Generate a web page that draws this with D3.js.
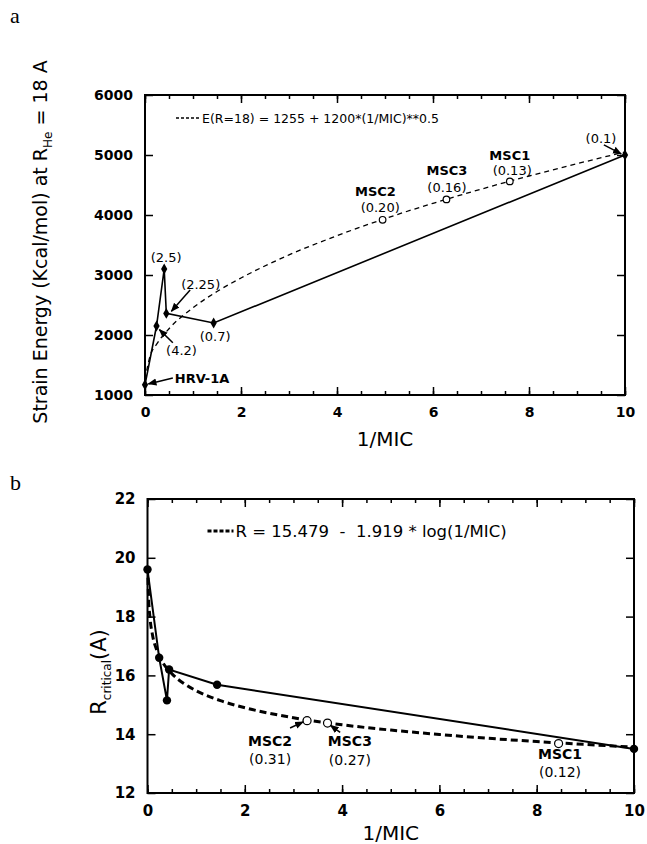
<!DOCTYPE html>
<html>
<head>
<meta charset="utf-8">
<script src="https://cdn.jsdelivr.net/npm/d3@7"></script>
<style>
  body { margin: 0; background: #fff; }
  svg { display: block; font-family: "DejaVu Sans", sans-serif; }
</style>
</head>
<body>
<svg id="chart" width="647" height="844"></svg>
<script>
// ---- panel a : strain energy at R = 18 A vs 1/MIC ----
var strainX = [0, 0.24, 0.4, 0.444, 1.43, 10];
var strainE = [1170, 2150, 3100, 2360, 2200, 5000];
var mscXa = [4.95, 6.28, 7.6];
var mscEa = [3920, 4260, 4560];
// dashed fit
var fitXa = [0, 0.1, 0.25, 0.5, 1, 1.5, 2, 3, 4, 5, 6, 7, 8, 9, 10];
var fitEa = [1255, 1635, 1855, 2105, 2455, 2725, 2950, 3335, 3655, 3940, 4195, 4430, 4650, 4855, 5050];
var yTicksA = [1000, 2000, 3000, 4000, 5000, 6000];

// ---- panel b : R critical vs 1/MIC ----
var rcritX = [0, 0.24, 0.4, 0.444, 1.43, 10];
var rcritR = [19.6, 16.6, 15.15, 16.2, 15.68, 13.5];
var mscXb = [3.28, 3.7, 8.45];
var mscRb = [14.46, 14.38, 13.68];
var fitXb = [0.01, 0.02, 0.05, 0.1, 0.2, 0.3, 0.5, 0.75, 1, 1.5, 2, 3, 4, 5, 6, 7, 8, 9, 10];
var fitRb = [19.32, 18.74, 17.98, 17.40, 16.82, 16.48, 16.06, 15.72, 15.48, 15.14, 14.90, 14.56, 14.32, 14.14, 13.99, 13.86, 13.75, 13.65, 13.56];
var yTicksB = [12, 14, 16, 18, 20, 22];

var xTicks = [0, 2, 4, 6, 8, 10];
var xMinor = d3.range(0, 10.01, 0.5);

var svg = d3.select('#chart');
svg.append('rect').attr('width', 647).attr('height', 844).attr('fill', '#fff');

var defs = svg.append('defs');
defs.append('marker')
    .attr('id', 'arrow')
    .attr('viewBox', '0 0 10 10')
    .attr('refX', 9).attr('refY', 5)
    .attr('markerWidth', 9).attr('markerHeight', 9)
    .attr('markerUnits', 'userSpaceOnUse')
    .attr('orient', 'auto')
    .append('path').attr('d', 'M0,1 L10,5 L0,9 Z').attr('fill', '#000');

function panel(opt) {
    var x = d3.scaleLinear().domain([0, 10]).range([opt.left, opt.right]);
    var y = d3.scaleLinear().domain(opt.yDomain).range([opt.bottom, opt.top]);
    var g = svg.append('g');

    function axis(gen, tr, vals, size, labels) {
        var a = g.append('g').attr('transform', tr)
            .call(gen.tickValues(vals).tickSize(size).tickPadding(opt.pad)
                .tickFormat(labels ? d3.format('d') : ''));
        a.select('.domain').remove();
        a.selectAll('line').attr('stroke', '#000').attr('stroke-width', 1.5);
        a.selectAll('text').attr('font-family', '"DejaVu Sans", sans-serif')
            .attr('font-weight', 'bold').attr('font-size', opt.tickFont).attr('fill', '#000');
        return a;
    }
    var bt = 'translate(0,' + opt.bottom + ')', tp = 'translate(0,' + opt.top + ')';
    var lf = 'translate(' + opt.left + ',0)', rt = 'translate(' + opt.right + ',0)';
    axis(d3.axisBottom(x), bt, xMinor, -4, false);
    axis(d3.axisBottom(x), bt, xTicks, -8, true);
    axis(d3.axisTop(x), tp, xMinor, -4, false);
    axis(d3.axisTop(x), tp, xTicks, -8, false);
    axis(d3.axisLeft(y), lf, opt.yTicks, -8, true);
    axis(d3.axisRight(y), rt, opt.yTicks, -8, false);

    g.append('rect')
        .attr('x', opt.left).attr('y', opt.top)
        .attr('width', opt.right - opt.left).attr('height', opt.bottom - opt.top)
        .attr('fill', 'none').attr('stroke', '#000').attr('stroke-width', 2);

    // dashed fit
    g.append('path')
        .datum(opt.fitX.map(function(d, i) { return [d, opt.fitY[i]]; }))
        .attr('fill', 'none').attr('stroke', '#000')
        .attr('stroke-width', opt.dashW).attr('stroke-dasharray', opt.dash)
        .attr('d', d3.line().x(function(d) { return x(d[0]); }).y(function(d) { return y(d[1]); })
            .curve(d3.curveMonotoneX));

    // solid data line
    var pts = opt.lineX.map(function(d, i) { return [d, opt.lineY[i]]; });
    g.append('path').datum(pts)
        .attr('fill', 'none').attr('stroke', '#000').attr('stroke-width', opt.solidW)
        .attr('d', d3.line().x(function(d) { return x(d[0]); }).y(function(d) { return y(d[1]); }));

    if (opt.diamond) {
        g.selectAll('.pt').data(pts).enter().append('path')
            .attr('transform', function(d) { return 'translate(' + x(d[0]) + ',' + y(d[1]) + ')'; })
            .attr('d', d3.symbol().type(d3.symbolDiamond).size(34))
            .attr('fill', '#000');
    } else {
        g.selectAll('.pt').data(pts).enter().append('circle')
            .attr('cx', function(d) { return x(d[0]); })
            .attr('cy', function(d) { return y(d[1]); })
            .attr('r', 4.2).attr('fill', '#000');
    }

    g.selectAll('.msc').data(opt.mscX).enter().append('circle')
        .attr('cx', function(d) { return x(d); })
        .attr('cy', function(d, i) { return y(opt.mscY[i]); })
        .attr('r', opt.openR).attr('fill', '#fff').attr('stroke', '#000').attr('stroke-width', 1.2);

    opt.notes.forEach(function(n) {
        if (n.from) {
            g.append('line')
                .attr('x1', x(n.from[0])).attr('y1', y(n.from[1]))
                .attr('x2', x(n.to[0])).attr('y2', y(n.to[1]))
                .attr('stroke', '#000').attr('stroke-width', 1.5)
                .attr('marker-end', 'url(#arrow)');
        }
        if (n.text) {
            g.append('text')
                .attr('x', x(n.at[0])).attr('y', y(n.at[1]))
                .attr('dy', '0.36em')
                .attr('text-anchor', n.anchor || 'middle')
                .attr('font-size', opt.noteFont)
                .attr('font-weight', n.bold ? 'bold' : 'normal')
                .text(n.text);
        }
    });

    // legend
    var lg = g.append('g').attr('transform', 'translate(' + (opt.left + opt.legend[0]) + ',' + (opt.top + opt.legend[1]) + ')');
    lg.append('line').attr('x1', 0).attr('x2', opt.legend[2]).attr('y1', 0).attr('y2', 0)
        .attr('stroke', '#000').attr('stroke-width', opt.dashW).attr('stroke-dasharray', opt.legendDash);
    lg.append('text').attr('x', opt.legend[2] + 2).attr('dy', '0.36em')
        .attr('font-size', opt.legendFont).style('white-space', 'pre')
        .text(opt.legendText);

    // axis title
    g.append('text')
        .attr('x', (opt.left + opt.right) / 2).attr('y', opt.xTitleY)
        .attr('text-anchor', 'middle').attr('font-size', 20)
        .text('1/MIC');
    return g;
}

var ga = panel({
    left: 145, right: 625, top: 95, bottom: 395,
    yDomain: [1000, 6000], yTicks: yTicksA, pad: 12, tickFont: 14,
    fitX: fitXa, fitY: fitEa, dash: '5,4', dashW: 1.3,
    lineX: strainX, lineY: strainE, solidW: 1.6, diamond: true,
    mscX: mscXa, mscY: mscEa, openR: 3.3,
    noteFont: 13,
    notes: [
        {text: 'HRV-1A', at: [0.62, 1283], anchor: 'start', bold: true, from: [0.58, 1283], to: [0.07, 1185]},
        {text: '(4.2)', at: [0.76, 1750], from: [0.58, 1870], to: [0.3, 2090]},
        {text: '(2.5)', at: [0.44, 3300]},
        {text: '(2.25)', at: [1.16, 2850], from: [0.94, 2750], to: [0.55, 2395]},
        {text: '(0.7)', at: [1.46, 1983]},
        {text: '(0.1)', at: [9.5, 5283], from: [9.56, 5170], to: [9.92, 5020]},
        {text: 'MSC2', at: [4.8, 4390], bold: true},
        {text: '(0.20)', at: [4.9, 4125]},
        {text: 'MSC3', at: [6.29, 4740], bold: true},
        {text: '(0.16)', at: [6.29, 4460]},
        {text: 'MSC1', at: [7.6, 4990], bold: true},
        {text: '(0.13)', at: [7.65, 4740]}
    ],
    legend: [31, 23, 24], legendDash: '3,2', legendFont: 12.5,
    legendText: 'E(R=18) = 1255 + 1200*(1/MIC)**0.5',
    xTitleY: 446
});

var gb = panel({
    left: 147.5, right: 634, top: 499, bottom: 793,
    yDomain: [12, 22], yTicks: yTicksB, pad: 12, tickFont: 15,
    fitX: fitXb, fitY: fitRb, dash: '7,4', dashW: 3,
    lineX: rcritX, lineY: rcritR, solidW: 2, diamond: false,
    mscX: mscXb, mscY: mscRb, openR: 4,
    noteFont: 14,
    notes: [
        {text: 'MSC2', at: [2.52, 13.78], bold: true, from: [2.93, 14.21], to: [3.2, 14.42]},
        {text: '(0.31)', at: [2.52, 13.16]},
        {text: 'MSC3', at: [4.16, 13.76], bold: true, from: [3.96, 14.06], to: [3.76, 14.3]},
        {text: '(0.27)', at: [4.16, 13.14]},
        {text: 'MSC1', at: [8.48, 13.32], bold: true},
        {text: '(0.12)', at: [8.48, 12.7]}
    ],
    legend: [60, 32, 26], legendDash: '4,2', legendFont: 16.5,
    legendText: 'R = 15.479  -  1.919 * log(1/MIC)',
    xTitleY: 840
});

// y axis titles
var ta = svg.append('text')
    .attr('transform', 'translate(47,242) rotate(-90)')
    .attr('text-anchor', 'middle').attr('font-size', 19);
ta.append('tspan').text('Strain Energy (Kcal/mol) at R');
ta.append('tspan').attr('font-size', 12).attr('dy', 5).text('He');
ta.append('tspan').attr('dy', -5).text(' = 18 A');

var tb = svg.append('text')
    .attr('transform', 'translate(106,672) rotate(-90)')
    .attr('text-anchor', 'middle').attr('font-size', 21);
tb.append('tspan').text('R');
tb.append('tspan').attr('font-size', 12).attr('dy', 5).text('critical');
tb.append('tspan').attr('dy', -5).text('(A)');

// panel letters
svg.append('text').attr('x', 10).attr('y', 23)
    .attr('font-family', '"Liberation Serif", serif').attr('font-size', 22).text('a');
svg.append('text').attr('x', 10).attr('y', 490)
    .attr('font-family', '"Liberation Serif", serif').attr('font-size', 22).text('b');
</script>
</body>
</html>
